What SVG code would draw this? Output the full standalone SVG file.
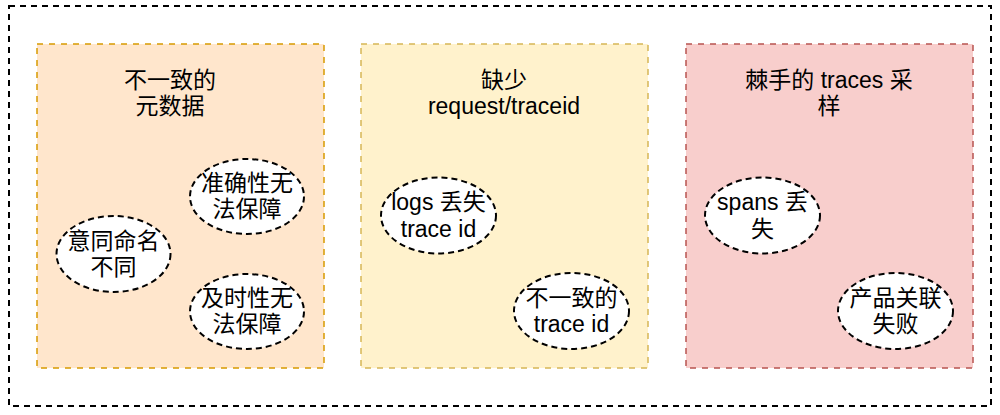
<svg xmlns="http://www.w3.org/2000/svg" width="1000" height="415" viewBox="0 0 1000 415">
<style>
text{font-family:"Liberation Sans","Noto Sans CJK SC",sans-serif;font-size:23px;fill:#000;text-anchor:middle;dominant-baseline:central}
.outer{fill:none;stroke:#000;stroke-width:2;stroke-dasharray:6 5}
.box{stroke-width:1.5;stroke-dasharray:6 6}
.b1{fill:#ffe6cc;stroke:#d79b00}
.b2{fill:#fff2cc;stroke:#d6b656}
.b3{fill:#f8cecc;stroke:#b85450}
.el{fill:#fff;stroke:#000;stroke-width:2;stroke-dasharray:6 4}
</style>
<rect width="1000" height="415" fill="#fff"/>
<g id="container"><rect class="outer" x="9" y="6" width="982" height="400"/></g>
<g id="group1">
<rect class="box b1" x="37" y="44" width="287" height="324"/>
<text x="170" y="80">不一致的</text>
<text x="170" y="106">元数据</text>
</g>
<g id="group2">
<rect class="box b2" x="361" y="44" width="287" height="324"/>
<text x="504" y="80">缺少</text>
<text x="504" y="106">request/traceid</text>
</g>
<g id="group3">
<rect class="box b3" x="686" y="44" width="287" height="324"/>
<text x="829" y="80">棘手的 traces 采</text>
<text x="829" y="106">样</text>
</g>
<g id="n-accuracy">
<ellipse class="el" cx="247" cy="196.5" rx="57" ry="37.5"/>
<text x="247" y="183">准确性无</text>
<text x="247" y="209">法保障</text>
</g>
<g id="n-naming">
<ellipse class="el" cx="113.5" cy="254" rx="57" ry="38"/>
<text x="113.5" y="241">意同命名</text>
<text x="113.5" y="267">不同</text>
</g>
<g id="n-timeliness">
<ellipse class="el" cx="247" cy="311.5" rx="57" ry="37.5"/>
<text x="247" y="298">及时性无</text>
<text x="247" y="324">法保障</text>
</g>
<g id="n-logs">
<ellipse class="el" cx="438.5" cy="215.5" rx="57.5" ry="38"/>
<text x="438.5" y="202">logs 丢失</text>
<text x="438.5" y="229">trace id</text>
</g>
<g id="n-inconsistent">
<ellipse class="el" cx="571.5" cy="311" rx="57.5" ry="38"/>
<text x="571.5" y="298">不一致的</text>
<text x="571.5" y="324">trace id</text>
</g>
<g id="n-spans">
<ellipse class="el" cx="762.5" cy="215.5" rx="57.5" ry="38"/>
<text x="762.5" y="202">spans 丢</text>
<text x="762.5" y="229">失</text>
</g>
<g id="n-product">
<ellipse class="el" cx="895.5" cy="311" rx="57.5" ry="38"/>
<text x="895.5" y="298">产品关联</text>
<text x="895.5" y="324">失败</text>
</g>
<g id="connectors"></g>
</svg>
